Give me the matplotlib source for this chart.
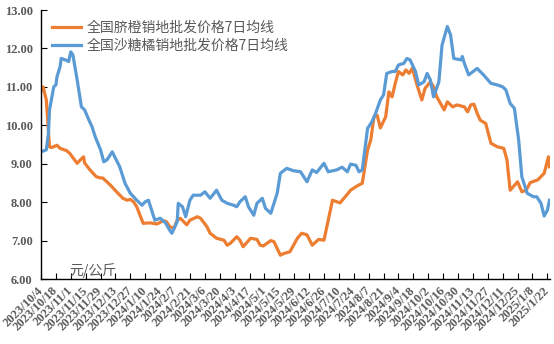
import datetime as dt
import matplotlib
matplotlib.use("Agg")
import matplotlib.pyplot as plt

START = dt.date(2023, 10, 4)

# 全国脐橙销地批发价格7日均线 (days after 2023/10/4, 元/公斤)
navel_days = [0, 2, 5, 8, 10, 15, 18, 24, 27, 34, 37, 40, 41, 46, 52, 56, 58, 65, 71, 77,
              81, 84, 87, 90, 96, 103, 109, 115, 118, 121, 125, 128, 131, 137, 140, 147,
              150, 156, 159, 165, 172, 175, 178, 184, 187, 190, 197, 203, 206, 209, 216,
              219, 225, 228, 234, 241, 245, 250, 255, 261, 266, 274, 281, 286, 291, 297,
              302, 307, 310, 313, 316, 319, 324, 327, 330, 333, 336, 340, 343, 346, 349,
              354, 358, 361, 366, 369, 372, 379, 382, 387, 391, 398, 401, 404, 407, 410,
              413, 418, 423, 429, 435, 438, 441, 448, 452, 456, 460, 467, 473, 477, 478]
navel_price = [10.90, 11.00, 10.66, 9.44, 9.42, 9.48, 9.40, 9.34, 9.27, 9.01, 9.10, 9.18,
               9.02, 8.84, 8.66, 8.63, 8.63, 8.45, 8.27, 8.10, 8.05, 8.07, 8.01, 7.88, 7.45,
               7.46, 7.43, 7.52, 7.49, 7.36, 7.32, 7.53, 7.58, 7.41, 7.53, 7.62, 7.58, 7.36,
               7.19, 7.06, 7.01, 6.88, 6.93, 7.10, 7.01, 6.84, 7.06, 7.03, 6.88, 6.86, 7.00,
               6.97, 6.62, 6.66, 6.71, 7.06, 7.19, 7.15, 6.88, 7.03, 7.01, 8.05, 7.98, 8.14,
               8.31, 8.42, 8.49, 9.36, 9.62, 10.22, 10.26, 9.93, 10.22, 10.87, 10.74, 11.09,
               11.40, 11.31, 11.44, 11.35, 11.48, 11.00, 10.66, 10.96, 11.13, 11.00, 10.74,
               10.40, 10.61, 10.48, 10.53, 10.48, 10.35, 10.53, 10.55, 10.31, 10.13, 10.05,
               9.53, 9.44, 9.40, 9.10, 8.31, 8.53, 8.27, 8.31, 8.51, 8.58, 8.75, 9.18, 8.92]

# 全国沙糖橘销地批发价格7日均线
tangerine_days = [0, 5, 7, 8, 12, 14, 15, 18, 19, 23, 26, 28, 30, 34, 38, 41, 45, 48, 51,
                  56, 59, 62, 67, 70, 74, 79, 84, 90, 95, 98, 101, 104, 107, 112, 117, 121,
                  123, 128, 129, 133, 136, 140, 143, 150, 154, 159, 165, 170, 175, 181, 184,
                  187, 192, 195, 200, 203, 208, 211, 216, 219, 222, 225, 231, 237, 244, 250,
                  255, 259, 266, 270, 278, 283, 288, 291, 296, 299, 302, 307, 311, 314, 319,
                  322, 325, 330, 333, 336, 341, 344, 347, 352, 355, 360, 363, 366, 369, 374,
                  377, 382, 385, 388, 395, 396, 398, 402, 410, 416, 423, 429, 434, 437, 441,
                  445, 449, 452, 457, 463, 466, 470, 473, 476, 478]
tangerine_price = [9.31, 9.36, 9.79, 10.40, 11.00, 11.05, 11.26, 11.53, 11.74, 11.70, 11.66,
                   11.91, 11.83, 11.18, 10.48, 10.40, 10.14, 9.96, 9.70, 9.36, 9.05, 9.10,
                   9.31, 9.14, 8.92, 8.49, 8.23, 8.05, 7.92, 8.01, 8.05, 7.79, 7.53, 7.58,
                   7.46, 7.27, 7.19, 7.49, 7.97, 7.88, 7.62, 8.05, 8.18, 8.18, 8.27, 8.10,
                   8.31, 8.05, 7.97, 7.92, 7.88, 8.01, 8.14, 7.88, 7.66, 7.97, 8.10, 7.84,
                   7.71, 7.97, 8.23, 8.75, 8.88, 8.82, 8.79, 8.53, 8.84, 8.77, 9.01, 8.79,
                   8.84, 8.91, 8.79, 8.99, 8.96, 8.79, 8.84, 9.92, 10.09, 10.27, 10.66, 10.79,
                   11.35, 11.40, 11.40, 11.57, 11.61, 11.74, 11.70, 11.40, 11.05, 11.13,
                   11.35, 11.18, 10.74, 11.13, 12.09, 12.57, 12.35, 11.74, 11.70, 11.79,
                   11.61, 11.31, 11.48, 11.31, 11.09, 11.05, 11.00, 10.92, 10.57, 10.44,
                   9.62, 8.66, 8.23, 8.14, 8.14, 7.97, 7.64, 7.79, 8.05]

series_names = ["全国脐橙销地批发价格7日均线", "全国沙糖橘销地批发价格7日均线"]
y_ticks = [6.0, 7.0, 8.0, 9.0, 10.0, 11.0, 12.0, 13.0]
unit_label = "元/公斤"

ORANGE = "#ED7D31"
BLUE = "#5B9BD5"
GREY = "#595959"
CJK = ["Noto Sans CJK SC", "DejaVu Sans"]


def to_dates(days):
    return [START + dt.timedelta(days=d) for d in days]


fig = plt.figure(figsize=(5.54, 3.44), dpi=100)
ax = fig.add_axes([41 / 554, 65 / 344, 508.5 / 554, 269 / 344])

ax.plot(to_dates(navel_days), navel_price, color=ORANGE, lw=2.3,
        solid_joinstyle="round", label=series_names[0])
ax.plot(to_dates(tangerine_days), tangerine_price, color=BLUE, lw=2.3,
        solid_joinstyle="round", label=series_names[1])

ax.set_ylim(6, 13)
ax.set_yticks(y_ticks)
ax.set_yticklabels([f"{v:.2f}" for v in y_ticks])

ax.set_xlim(START, START + dt.timedelta(days=478.6))
tick_dates = [START + dt.timedelta(days=14 * k) for k in range(35)]
ax.set_xticks(tick_dates)
ax.set_xticklabels([f"{d.year}/{d.month}/{d.day}" for d in tick_dates],
                   rotation=45, ha="right", va="center", rotation_mode="anchor")

for s in ("top", "right"):
    ax.spines[s].set_visible(False)
for s in ("left", "bottom"):
    ax.spines[s].set_color("black")
    ax.spines[s].set_linewidth(1.0)

ax.tick_params(axis="both", direction="in", length=4, width=0.8, color="black")
ax.tick_params(axis="y", pad=6)
ax.tick_params(axis="x", pad=7)
for lab in ax.get_yticklabels() + ax.get_xticklabels():
    lab.set_family("Liberation Serif")
    lab.set_weight("bold")
    lab.set_color(GREY)
    lab.set_fontsize(9)

leg = ax.legend(loc="upper left", bbox_to_anchor=(0.005, 0.99), frameon=False,
                prop={"family": CJK, "size": 10}, handlelength=2.1,
                handletextpad=0.4, labelspacing=0.3, borderaxespad=0.2)
for t in leg.get_texts():
    t.set_color(GREY)

ax.text(0.055, 0.005, unit_label, transform=ax.transAxes, family=CJK,
        fontsize=10, color=GREY, ha="left", va="bottom")

fig.savefig("out.png", dpi=100)
